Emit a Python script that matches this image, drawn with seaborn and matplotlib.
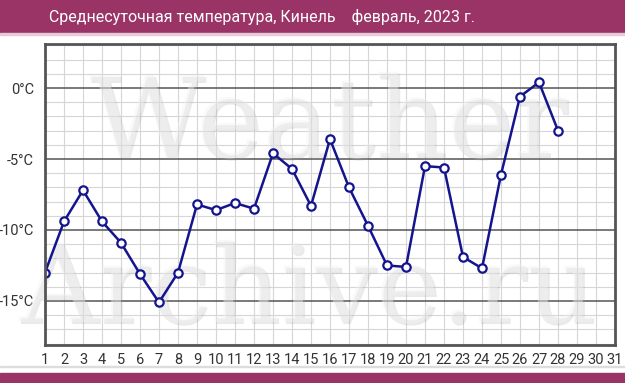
import matplotlib
matplotlib.use("Agg")
import matplotlib.pyplot as plt
import matplotlib.patheffects as pe
from matplotlib.patches import Rectangle
import seaborn as sns
import pandas as pd

days = list(range(1, 29))
temps = [-13.0, -9.4, -7.2, -9.4, -10.9, -13.1, -15.1, -13.0, -8.2, -8.6,
         -8.1, -8.5, -4.6, -5.7, -8.3, -3.6, -7.0, -9.7, -12.5, -12.6,
         -5.5, -5.6, -11.9, -12.7, -6.1, -0.6, 0.4, -3.0]
x_labels = [str(d) for d in range(1, 32)]
y_major = [-15, -10, -5, 0]
y_labels = ["-15°C", "-10°C", "-5°C", "0°C"]
title = "Среднесуточная температура, Кинель    февраль, 2023 г."

sns.set_style("white")
plt.rcParams['font.family'] = ['Roboto', 'DejaVu Sans']

W, H = 625, 383
fig = plt.figure(figsize=(6.25, 3.83), dpi=100)
fig.patch.set_facecolor("white")

def fx(px):
    return px / W

def fy(py):
    return 1 - py / H

# header band
fig.patches.append(Rectangle((0, fy(33)), 1, 33 / H, transform=fig.transFigure,
                             color="#9a3366", zorder=0))
fig.patches.append(Rectangle((0, fy(35)), 1, 2 / H, transform=fig.transFigure,
                             color="#e9c9d8", zorder=0))
# footer
fig.patches.append(Rectangle((0, fy(367)), 1, 1 / H, transform=fig.transFigure,
                             color="#dddddd", zorder=0))
fig.patches.append(Rectangle((0, 0), 1, 10 / H, transform=fig.transFigure,
                             color="#9a3366", zorder=0))

fig.text(fx(49), fy(17), title, color="white", fontsize=11.5,
         ha="left", va="center")

ax = fig.add_axes([fx(45), fy(345), fx(615) - fx(45), fy(44) - fy(345)])
df = pd.DataFrame({"day": days, "temp": temps})

ax.set_xlim(1, 31)
ax.set_ylim(-18.1, 3.1)

# minor grid
for d in range(1, 32):
    ax.axvline(d, color="#d6d6d6", lw=0.8, zorder=1)
for t in range(-18, 4):
    if t % 5 != 0:
        ax.axhline(t, color="#d6d6d6", lw=0.8, zorder=1)
for t in y_major:
    ax.axhline(t, color="#555555", lw=1.1, zorder=2)

# watermark (inside axes drawing order, under the data line)
shadow = [pe.SimplePatchShadow(offset=(1.5, -1.5), shadow_rgbFace="#a0a0a0", alpha=0.22),
          pe.Normal()]
ax.text(fx(328), fy(157), "Weather", family="DejaVu Serif", fontsize=81,
        color="#f2f2f2", alpha=0.42, ha="center", va="baseline",
        transform=fig.transFigure, clip_on=False,
        path_effects=shadow, zorder=3)
ax.text(fx(308), fy(322), "Archive.ru", family="DejaVu Serif", fontsize=78,
        color="#f2f2f2", alpha=0.42, ha="center", va="baseline",
        transform=fig.transFigure, clip_on=False,
        path_effects=shadow, zorder=3)

sns.lineplot(data=df, x="day", y="temp", ax=ax, color="#14148e", lw=1.8,
             marker="o", markersize=6, markerfacecolor="white",
             markeredgecolor="#14148e", markeredgewidth=1.6, zorder=5)

ax.set_xticks(range(1, 32))
ax.set_xticklabels(x_labels, fontsize=10.5, color="#333333")
ax.set_yticks(y_major)
ax.set_yticklabels(y_labels, fontsize=10.5, color="#333333")
ax.tick_params(axis="both", length=0)
ax.tick_params(axis="x", pad=6)
ax.tick_params(axis="y", pad=8)
ax.set_xlabel("")
ax.set_ylabel("")
for s in ax.spines.values():
    s.set_visible(True)
    s.set_color("#555555")
    s.set_linewidth(2)
    s.set_zorder(6)

fig.savefig("out.png", dpi=100, facecolor="white")
